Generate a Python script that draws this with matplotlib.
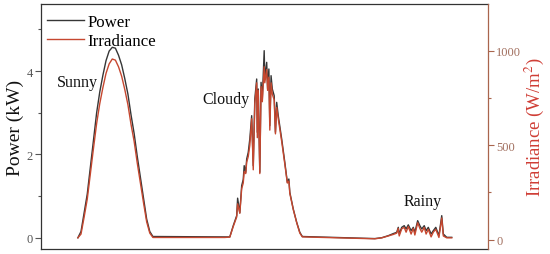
import matplotlib
matplotlib.use("Agg")
import matplotlib.pyplot as plt
import numpy as np
from matplotlib.ticker import MultipleLocator

plt.rcParams['font.family'] = ['Liberation Serif', 'DejaVu Serif']
plt.rcParams['mathtext.fontset'] = 'stix'

# ---- data (time in hours) ----
sunny_t = [6.0, 6.5, 7.0, 7.5, 8.0, 8.5, 9.0, 9.5, 10.0, 10.5, 11.0, 11.5, 12.0,
           12.5, 13.0, 13.5, 14.0, 14.5, 15.0, 15.5, 16.0, 16.5, 17.0, 17.5, 18.0]
sunny_power = [0.0, 0.15, 0.6, 1.05, 1.7, 2.35, 3.0, 3.5, 3.9, 4.25, 4.48, 4.57, 4.55,
               4.38, 4.15, 3.82, 3.45, 2.95, 2.5, 1.95, 1.45, 0.95, 0.45, 0.15, 0.03]
sunny_irr = [10, 30, 120, 215, 350, 485, 615, 720, 805, 880, 930, 956, 950,
             915, 865, 795, 715, 610, 520, 405, 300, 195, 95, 35, 12]

night1_t = [29.5]
night1_power = [0.02]
night1_irr = [12]

cloudy_t = [30.3, 30.85, 31.4, 31.55, 31.9, 32.2, 32.45, 32.6, 32.85, 33.0, 33.25, 33.5,
            33.8, 34.05, 34.3, 34.6, 34.7, 34.85, 35.1, 35.3, 35.5, 35.8, 35.9, 36.2,
            36.35, 36.55, 36.7, 36.9, 37.1, 37.4, 37.6, 37.8, 38.05, 38.6, 39.1, 39.5,
            39.75, 39.9, 40.45, 41.0, 41.5, 41.9]
cloudy_power = [0.02, 0.29, 0.53, 0.95, 0.6, 1.25, 1.4, 1.73, 1.57, 1.89, 2.05, 2.37,
                2.93, 1.73, 3.33, 3.81, 2.53, 3.57, 1.57, 3.73, 3.33, 4.49, 3.81, 4.21,
                3.57, 4.05, 2.69, 3.89, 3.57, 3.41, 2.53, 3.25, 2.93, 2.37, 1.81, 1.33,
                1.41, 1.09, 0.69, 0.37, 0.13, 0.03]
cloudy_irr = [14, 70, 120, 190, 140, 270, 300, 360, 350, 410, 440, 500,
              640, 370, 720, 830, 540, 790, 350, 810, 730, 915, 830, 900,
              790, 860, 580, 830, 770, 740, 560, 700, 640, 520, 400, 300,
              310, 245, 160, 90, 35, 15]

night2_t = [53.5]
night2_power = [-0.02]
night2_irr = [5]

rainy_t = [54.6, 55.65, 56.45, 57.0, 57.25, 57.4, 57.8, 58.2, 58.5, 58.85, 59.3, 59.65,
           59.9, 60.35, 60.7, 61.0, 61.4, 61.7, 62.05, 62.5, 62.85, 63.25, 63.75, 64.2,
           64.45, 65.0, 65.8]
rainy_power = [0.0, 0.05, 0.1, 0.13, 0.25, 0.09, 0.25, 0.29, 0.21, 0.31, 0.17, 0.25,
               0.13, 0.41, 0.29, 0.21, 0.29, 0.17, 0.25, 0.09, 0.17, 0.25, 0.05, 0.53,
               0.09, 0.01, 0.01]
rainy_irr = [10, 20, 28, 35, 60, 20, 58, 65, 40, 70, 30, 60,
             25, 90, 60, 40, 65, 30, 55, 15, 40, 55, 12, 115,
             20, 10, 10]

weather_labels = ["Sunny", "Cloudy", "Rainy"]
label_t = [5.9, 29.7, 61.1]
label_power = [3.74, 3.32, 0.89]

power_ticks = [0, 2, 4]
irr_ticks = [0, 500, 1000]

t = sunny_t + night1_t + cloudy_t + night2_t + rainy_t
power = sunny_power + night1_power + cloudy_power + night2_power + rainy_power
irr = sunny_irr + night1_irr + cloudy_irr + night2_irr + rainy_irr

# ---- figure ----
fig = plt.figure(figsize=(5.5, 2.55), dpi=100)
ax = fig.add_axes([41/550, 5/255, 447/550, 245/255])
ax2 = ax.twinx()

power_c = "#363636"
irr_c = "#c6472f"
spine_r = "#a9654d"

l1, = ax.plot(t, power, color=power_c, lw=1.0, label="Power")
l2, = ax2.plot(t, irr, color=irr_c, lw=1.0, label="Irradiance")

ax.set_xlim(0.1, 71.6)
ax.set_ylim(-0.27, 5.61)
ax2.set_ylim(-49, 1247)

ax.set_xticks([])
ax.set_yticks(power_ticks)
ax.yaxis.set_minor_locator(MultipleLocator(1))
ax2.set_yticks(irr_ticks)
ax2.yaxis.set_minor_locator(MultipleLocator(250))

ax.tick_params(axis='y', which='major', direction='out', length=4, width=0.8,
               color="#555555", labelcolor="#555555", labelsize=9, pad=2)
ax.tick_params(axis='y', which='minor', direction='out', length=2.5, width=0.8,
               color="#555555")
ax2.tick_params(axis='y', which='major', direction='out', length=4, width=0.8,
                color=spine_r, labelcolor="#a27060", labelsize=9, pad=2)
ax2.tick_params(axis='y', which='minor', direction='out', length=2.5, width=0.8,
                color=spine_r)

for s in ['top', 'bottom', 'left']:
    ax.spines[s].set_color("#333333")
    ax.spines[s].set_linewidth(0.9)
ax.spines['right'].set_visible(False)
for s in ['top', 'bottom', 'left']:
    ax2.spines[s].set_visible(False)
ax2.spines['right'].set_color(spine_r)
ax2.spines['right'].set_linewidth(0.9)

ax.set_ylabel("Power (kW)", fontsize=14, color="#111111", labelpad=2)
ax2.set_ylabel(r"Irradiance (W/m$^2$)", fontsize=13.5, color="#cf3d35", labelpad=1)

for lab, lt, lp in zip(weather_labels, label_t, label_power):
    ax.text(lt, lp, lab, fontsize=11.5, ha='center', va='center', color="#111111")

ax.legend(handles=[l1, l2], loc='upper left', bbox_to_anchor=(0.0134, 0.958),
          frameon=False, fontsize=12.2, borderpad=0, borderaxespad=0,
          handlelength=2.2, handletextpad=0.2, labelspacing=0.15)

fig.savefig("out.png", dpi=100)
